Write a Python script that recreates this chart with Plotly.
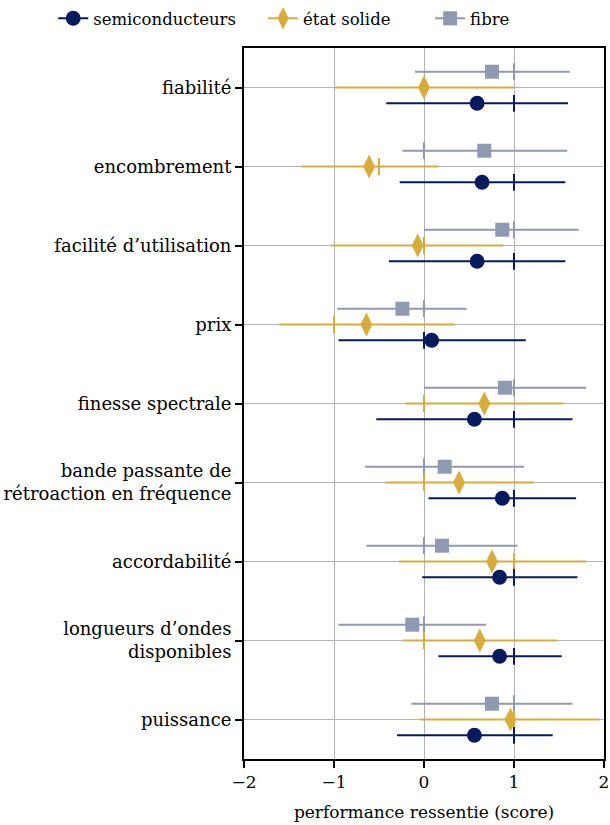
import plotly.graph_objects as go

categories = ["fiabilité", "encombrement", "facilité d’utilisation", "prix",
              "finesse spectrale", "bande passante de<br>rétroaction en fréquence",
              "accordabilité", "longueurs d’ondes<br>disponibles", "puissance"]

series_names = ["semiconducteurs", "état solide", "fibre"]

# mean, median, low, high per category (top to bottom)
semi_mean = [0.59, 0.645, 0.59, 0.085, 0.56, 0.87, 0.84, 0.84, 0.56]
semi_med = [1, 1, 1, 0, 1, 1, 1, 1, 1]
semi_lo = [-0.42, -0.27, -0.39, -0.95, -0.53, 0.05, -0.02, 0.16, -0.30]
semi_hi = [1.60, 1.57, 1.57, 1.13, 1.65, 1.69, 1.705, 1.53, 1.43]

etat_mean = [0.0, -0.61, -0.07, -0.64, 0.67, 0.39, 0.755, 0.62, 0.96]
etat_med = [0, -0.5, 0, -1, 0, 0, 1, 0, 1]
etat_lo = [-0.99, -1.36, -1.03, -1.61, -0.21, -0.43, -0.28, -0.24, -0.045]
etat_hi = [1.0, 0.155, 0.88, 0.34, 1.55, 1.22, 1.80, 1.48, 1.95]

fibre_mean = [0.755, 0.67, 0.87, -0.24, 0.90, 0.23, 0.20, -0.13, 0.755]
fibre_med = [1, 0, 1, 0, 1, 0, 0, 0, 1]
fibre_lo = [-0.10, -0.24, 0.0, -0.965, 0.0, -0.655, -0.64, -0.95, -0.14]
fibre_hi = [1.62, 1.59, 1.72, 0.475, 1.80, 1.11, 1.04, 0.69, 1.65]

x_ticks = [-2, -1, 0, 1, 2]

colors = ["#061A5E", "#D8AC3A", "#8E9AB1"]
symbols = ["circle", "diamond-tall", "square"]
msizes = [15, 17, 14]
offsets = [-0.2, 0.0, 0.2]
legend_ids = ["legend", "legend2", "legend3"]
legend_x = [-0.53, 0.053, 0.517]

data = [
    (semi_mean, semi_med, semi_lo, semi_hi),
    (etat_mean, etat_med, etat_lo, etat_hi),
    (fibre_mean, fibre_med, fibre_lo, fibre_hi),
]

n = len(categories)
base = [n - 1 - i for i in range(n)]

FONT = "DejaVu Serif"
fig = go.Figure()

order = [2, 1, 0]
for k in order:
    mean, med, lo, hi = data[k]
    ys = [b + offsets[k] for b in base]
    fig.add_trace(go.Scatter(
        x=mean, y=ys, mode="markers",
        marker=dict(symbol=symbols[k], size=msizes[k], color=colors[k], line=dict(width=0)),
        error_x=dict(type="data", symmetric=False,
                     array=[h - m for h, m in zip(hi, mean)],
                     arrayminus=[m - l for m, l in zip(mean, lo)],
                     color=colors[k], thickness=2, width=0),
        showlegend=False, hoverinfo="skip", cliponaxis=False))
    fig.add_trace(go.Scatter(
        x=med, y=ys, mode="markers",
        marker=dict(symbol="line-ns", size=12, line=dict(width=2, color=colors[k])),
        showlegend=False, hoverinfo="skip"))

for k in range(3):
    fig.add_trace(go.Scatter(
        x=[None], y=[None], mode="lines+markers", name=series_names[k],
        legend=legend_ids[k],
        marker=dict(symbol=symbols[k], size=msizes[k], color=colors[k]),
        line=dict(color=colors[k], width=2)))

leg_common = dict(orientation="h", xanchor="left", y=1.066, yanchor="top",
                  xref="paper", yref="paper", font=dict(size=16.5, family=FONT),
                  itemwidth=30, bgcolor="rgba(0,0,0,0)")

fig.update_layout(
    width=610, height=825,
    margin=dict(l=244, r=6, t=48, b=66, autoexpand=False),
    plot_bgcolor="white", paper_bgcolor="white",
    font=dict(family=FONT, size=17, color="black"),
    showlegend=True,
    legend=dict(x=legend_x[0], **leg_common),
    legend2=dict(x=legend_x[1], **leg_common),
    legend3=dict(x=legend_x[2], **leg_common),
    xaxis=dict(range=[-2, 2], tickvals=x_ticks, ticktext=[("−" + str(-t)) if t < 0 else str(t) for t in x_ticks],
               showgrid=True, gridcolor="#b3b3b3", gridwidth=1.4,
               zeroline=False, showline=True, linecolor="black", linewidth=2, mirror=True,
               ticks="outside", ticklen=7, tickwidth=2, tickcolor="black",
               tickfont=dict(size=17),
               title=dict(text="performance ressentie (score)", standoff=15, font=dict(size=17))),
    yaxis=dict(range=[-0.5, n - 0.5], tickvals=base, ticktext=categories,
               showgrid=True, gridcolor="#b3b3b3", gridwidth=1.4,
               zeroline=False, showline=True, linecolor="black", linewidth=2, mirror=True,
               ticks="outside", ticklen=7, tickwidth=2, tickcolor="black",
               tickfont=dict(size=18)),
)

fig.write_html("out.html", config={"displayModeBar": False},
               post_script="document.body.style.margin='0';")
